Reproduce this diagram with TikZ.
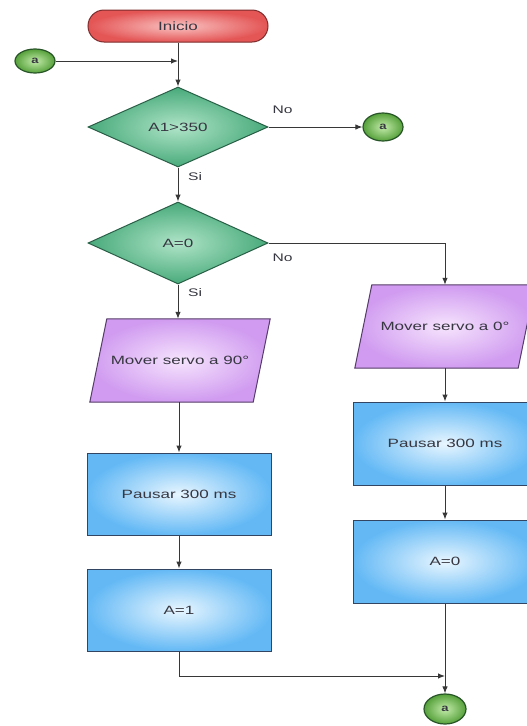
\documentclass[tikz,border=0pt]{standalone}
\usepackage{fontspec}
\newfontfamily\lab[FakeStretch=1.42]{Liberation Sans}
\newfontfamily\labb[FakeStretch=1.3]{Liberation Sans Bold}
\usetikzlibrary{shapes.geometric,arrows.meta,calc}
\pgfdeclarelayer{background}
\pgfsetlayers{background,main}
\definecolor{linec}{RGB}{55,55,55}
\definecolor{grin}{RGB}{175,228,200}
\definecolor{grout}{RGB}{72,170,122}
\definecolor{grbord}{RGB}{40,95,70}
\definecolor{ciin}{RGB}{195,235,170}
\definecolor{ciout}{RGB}{85,160,58}
\definecolor{cibord}{RGB}{40,85,40}
\definecolor{vin}{RGB}{246,228,253}
\definecolor{vout}{RGB}{208,155,240}
\definecolor{vbord}{RGB}{85,60,105}
\definecolor{bin}{RGB}{232,246,255}
\definecolor{bout}{RGB}{100,185,245}
\definecolor{bbord}{RGB}{50,70,100}
\definecolor{rin}{RGB}{250,195,195}
\definecolor{rout}{RGB}{228,85,85}
\definecolor{rbord}{RGB}{125,45,45}
\definecolor{txt}{RGB}{55,55,65}
\tikzset{
  every node/.style={font=\lab\fontsize{12}{14}\selectfont, text=txt},
  startbox/.style={rectangle, rounded corners=16pt, minimum width=180pt, minimum height=32pt,
    draw=rbord, line width=1pt, inner color=rin, outer color=rout, inner sep=0pt},
  decision/.style={diamond, minimum width=180pt, minimum height=80pt, inner sep=0pt,
    draw=grbord, line width=1pt, inner color=grin, outer color=grout},
  conn/.style={ellipse, minimum width=40pt, minimum height=26pt, inner sep=0pt,
    draw=cibord, line width=1.2pt, inner color=ciin, outer color=ciout,
    font=\labb\fontsize{10}{12}\selectfont},
  iobox/.style={rectangle, minimum width=180pt, minimum height=83pt, inner sep=0pt},
  iofill/.style={draw=vbord, line width=1pt, inner color=vin, outer color=vout},
  procbox/.style={rectangle, minimum width=184pt, minimum height=82pt, inner sep=0pt,
    draw=bbord, line width=1pt, inner color=bin, outer color=bout},
  flow/.style={draw=linec, line width=1pt, -{Latex[length=7pt,width=5.5pt]}},
  lbl/.style={font=\lab\fontsize{11}{12}\selectfont, inner sep=0pt}
}
\begin{document}
\begin{tikzpicture}[x=1pt,y=-1pt]
\useasboundingbox (0,0) rectangle (527,726);
\begin{pgfonlayer}{background}
\fill[white] (0,0) rectangle (527,726);
\end{pgfonlayer}
\clip (0,0) rectangle (527,726);

\node[startbox] (inicio) at (178,26) {Inicio};
\node[conn, minimum height=24pt] (ca) at (35,61) {a};
\node[decision] (d1) at (178,127) {A1>350};
\node[conn, minimum height=28pt] (cb) at (383,127) {a};
\node[decision, minimum height=82pt] (d2) at (178,243) {A=0};
\node[iobox] (p1) at (180,360.5) {Mover servo a 90°};
\node[iobox] (p2) at (445,326.5) {Mover servo a 0°};
\node[procbox] (b1) at (179,494) {Pausar 300 ms};
\node[procbox] (b2) at (179,610) {A=1};
\node[procbox, minimum height=83pt] (b3) at (445,443.5) {Pausar 300 ms};
\node[procbox, minimum height=83pt] (b4) at (445,561.5) {A=0};
\node[conn, minimum width=42pt, minimum height=30pt] (cc) at (445,709) {a};
\coordinate (j) at (445,676);

\begin{pgfonlayer}{background}
\path[iofill] ($(p1.north west)+(17,0)$) -- (p1.north east) -- ($(p1.south east)+(-17,0)$) -- (p1.south west) -- cycle;
\path[iofill] ($(p2.north west)+(17,0)$) -- (p2.north east) -- ($(p2.south east)+(-17,0)$) -- (p2.south west) -- cycle;
\end{pgfonlayer}

\draw[flow] (inicio.south) -- (d1.north);
\draw[flow] (ca.east) -- (ca.east -| d1.north);
\draw[flow] (d1.east) -- (cb.west);
\draw[flow] (d1.south) -- (d2.north);
\draw[flow] (d2.east) -| (p2.north);
\draw[flow] (d2.south) -- (p1.north -| d2.south);
\draw[flow] (p1.south -| b1.north) -- (b1.north);
\draw[flow] (b1.south) -- (b2.north);
\draw[flow] (p2.south) -- (b3.north);
\draw[flow] (b3.south) -- (b4.north);
\draw[flow] (b4.south) -- (cc.north);
\draw[flow] (b2.south) |- (j);

\node[lbl, anchor=south west] (no1) at ($(d1.east)+(4,-13)$) {No};
\node[lbl, anchor=north west] (si1) at ($(d1.south)+(10,5)$) {Si};
\node[lbl, anchor=north west] (no2) at ($(d2.east)+(4,11)$) {No};
\node[lbl, anchor=north west] (si2) at ($(d2.south)+(10,4)$) {Si};
\end{tikzpicture}
\end{document}
